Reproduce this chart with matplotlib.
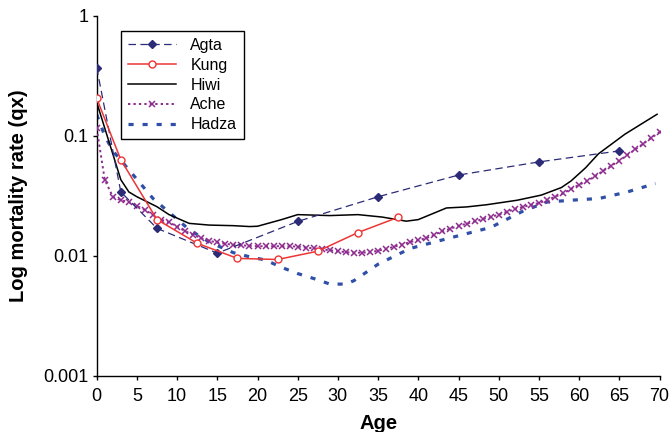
import matplotlib
matplotlib.use("Agg")
import matplotlib.pyplot as plt
from matplotlib.ticker import FixedLocator, FixedFormatter, NullLocator

plt.rcParams['font.family'] = ['Liberation Sans', 'DejaVu Sans']

# ---- data ----
agta_age = [0, 3, 7.5, 15, 25, 35, 45, 55, 65]
agta_q = [0.37, 0.034, 0.0169, 0.0105, 0.0193, 0.031, 0.047, 0.0605, 0.0747]

kung_age = [0, 3, 7.5, 12.5, 17.5, 22.5, 27.5, 32.5, 37.5]
kung_q = [0.205, 0.063, 0.020, 0.0127, 0.0095, 0.0093, 0.0109, 0.0156, 0.0209]

hiwi_age = [0, 3, 4, 5, 7.5, 9, 11.5, 14, 17, 19, 20, 23, 25, 29, 32.5, 35.5,
            38.5, 40, 43.5, 46, 48.5, 52.3, 55.3, 57.8, 59, 60.8, 62.4, 65.7, 69.7]
hiwi_q = [0.19, 0.043, 0.034, 0.031, 0.0256, 0.022, 0.0186, 0.018, 0.0178,
          0.0175, 0.0176, 0.020, 0.022, 0.0216, 0.022, 0.021, 0.0194, 0.020,
          0.025, 0.0255, 0.0266, 0.029, 0.032, 0.037, 0.042, 0.054, 0.0706,
          0.103, 0.151]

ache_age = list(range(0, 71))
ache_q = [0.115, 0.043, 0.031, 0.029, 0.028, 0.026, 0.024, 0.022, 0.020, 0.019,
          0.0175, 0.016, 0.015, 0.014, 0.0133, 0.0129, 0.0126, 0.0123, 0.0122,
          0.0121, 0.012, 0.012, 0.012, 0.012, 0.012, 0.0119, 0.0117, 0.0115,
          0.0113, 0.0111, 0.0109, 0.0107, 0.0106, 0.0106, 0.0107, 0.011,
          0.0114, 0.0119, 0.0124, 0.013, 0.0135, 0.014, 0.015, 0.016, 0.0168,
          0.0177, 0.0185, 0.0193, 0.0202, 0.021, 0.022, 0.0232, 0.0245, 0.0255,
          0.0265, 0.0275, 0.029, 0.031, 0.033, 0.036, 0.039, 0.042, 0.046,
          0.051, 0.056, 0.062, 0.069, 0.077, 0.086, 0.096, 0.107]

hadza_age = [0, 1, 2, 4, 7, 9, 11.5, 14, 17, 19, 21, 23, 25, 27.5, 29, 31, 32,
             35, 39, 44, 49, 53, 56, 59, 62.5, 66, 69.5]
hadza_q = [0.15, 0.10, 0.075, 0.052, 0.030, 0.023, 0.0165, 0.013, 0.0106,
           0.0098, 0.0092, 0.0080, 0.0071, 0.0063, 0.0058, 0.0058, 0.0062,
           0.0085, 0.0115, 0.0141, 0.0172, 0.0235, 0.028, 0.029, 0.030, 0.034,
           0.040]

y_ticks = [0.001, 0.01, 0.1, 1]
y_tick_labels = ["0.001", "0.01", "0.1", "1"]
x_ticks = list(range(0, 71, 5))

# ---- figure ----
fig = plt.figure(figsize=(6.72, 4.32), dpi=100)
ax = fig.add_axes([0.1439, 0.1303, 0.8375, 0.8333])

c_agta = '#2B2B78'
c_kung = '#EE3535'
c_ache = '#8E2D8F'
c_hadza = '#3050A8'

ax.plot(hadza_age, hadza_q, color=c_hadza, lw=2.3, dashes=(1.6, 2.8),
        dash_capstyle='butt', label='Hadza', zorder=2)
ax.plot(hiwi_age, hiwi_q, color='black', lw=1.1, label='Hiwi', zorder=3)
ax.plot(ache_age, ache_q, color=c_ache, lw=1.4, dashes=(1.2, 1.6),
        marker='x', ms=5, mew=1.1, label='Ache', zorder=4)
ax.plot(agta_age, agta_q, color=c_agta, lw=0.9, dashes=(6, 3.5),
        marker='D', ms=4.5, mfc=c_agta, mec=c_agta, label='Agta', zorder=5)
ax.plot(kung_age, kung_q, color=c_kung, lw=1.1, marker='o', ms=5,
        mfc='white', mec=c_kung, mew=1.0, label='Kung', zorder=6)

ax.set_yscale('log')
ax.set_ylim(0.001, 1)
ax.set_xlim(0, 70)
ax.yaxis.set_major_locator(FixedLocator(y_ticks))
ax.yaxis.set_major_formatter(FixedFormatter(y_tick_labels))
ax.yaxis.set_minor_locator(NullLocator())
ax.set_xticks(x_ticks)

for s in ['top', 'right']:
    ax.spines[s].set_visible(False)
for s in ['left', 'bottom']:
    ax.spines[s].set_linewidth(1.0)
    ax.spines[s].set_color('black')

ax.tick_params(axis='both', which='major', direction='out', length=3,
               width=1.0, labelsize=13)
ax.tick_params(axis='x', pad=5.5)
ax.tick_params(axis='y', pad=3)

ax.set_xlabel('Age', fontsize=14.5, fontweight='bold', labelpad=7)
ax.set_ylabel('Log mortality rate (qx)', fontsize=14.5, fontweight='bold',
              labelpad=11)

handles, labels = ax.get_legend_handles_labels()
order = ['Agta', 'Kung', 'Hiwi', 'Ache', 'Hadza']
hmap = dict(zip(labels, handles))
leg = ax.legend([hmap[k] for k in order], order, loc='upper left',
                bbox_to_anchor=(0.043, 0.958), borderaxespad=0,
                fontsize=11.5, frameon=True, fancybox=False, shadow=False,
                edgecolor='black', framealpha=1, handlelength=3.0,
                handletextpad=0.9, labelspacing=0.3, borderpad=0.45,
                numpoints=1)
leg.get_frame().set_linewidth(1.0)

fig.savefig('out.png', dpi=100)
